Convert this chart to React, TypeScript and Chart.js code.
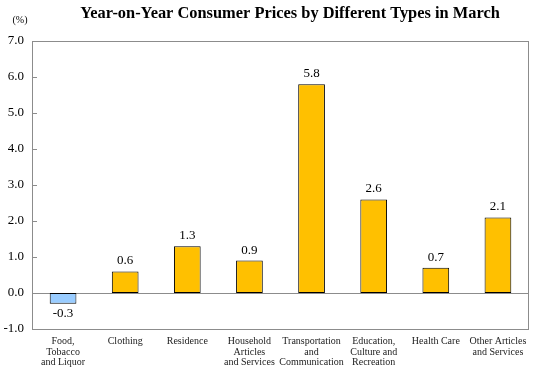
import React, { useEffect, useRef } from "react";
import { Chart, registerables } from "chart.js";

Chart.register(...registerables);

const categories: string[][] = [
  ["Food,", "Tobacco", "and Liquor"],
  ["Clothing"],
  ["Residence"],
  ["Household", "Articles", "and Services"],
  ["Transportation", "and", "Communication"],
  ["Education,", "Culture and", "Recreation"],
  ["Health Care"],
  ["Other Articles", "and Services"],
];
const values: number[] = [-0.3, 0.6, 1.3, 0.9, 5.8, 2.6, 0.7, 2.1];
const yTicks: number[] = [-1, 0, 1, 2, 3, 4, 5, 6, 7];
const titleText = "Year-on-Year Consumer Prices by Different Types in March";
const unitText = "(%)";

const FONT = "'Liberation Serif', 'Times New Roman', serif";

export default function App() {
  const ref = useRef<HTMLCanvasElement | null>(null);
  useEffect(() => {
    document.body.style.margin = "0";
    const canvas = ref.current!;
    const decor = {
      id: "decor",
      beforeDatasetsDraw(chart: any) {
        const { ctx, chartArea: a, scales } = chart;
        const y = scales.y;
        ctx.save();
        ctx.strokeStyle = "#8c8c8c";
        ctx.lineWidth = 1;
        const y0 = Math.round(y.getPixelForValue(0)) + 0.5;
        ctx.beginPath();
        ctx.moveTo(a.left, y0);
        ctx.lineTo(a.right, y0);
        ctx.stroke();
        for (const t of yTicks) {
          const py = Math.round(y.getPixelForValue(t)) + 0.5;
          ctx.beginPath();
          ctx.moveTo(a.left, py);
          ctx.lineTo(a.left + 5, py);
          ctx.stroke();
        }
        ctx.restore();
      },
      afterDraw(chart: any) {
        const { ctx, chartArea: a } = chart;
        ctx.save();
        ctx.strokeStyle = "#8c8c8c";
        ctx.lineWidth = 1;
        ctx.strokeRect(Math.round(a.left) + 0.5, Math.round(a.top) + 0.5, Math.round(a.right - a.left) - 1, Math.round(a.bottom - a.top));
        ctx.fillStyle = "#000";
        ctx.font = `bold 16.4px ${FONT}`;
        ctx.textAlign = "center";
        ctx.textBaseline = "middle";
        ctx.fillText(titleText, 290, 14);
        ctx.font = `10px ${FONT}`;
        ctx.fillText(unitText, 20, 20);
        const meta = chart.getDatasetMeta(0);
        ctx.font = `13px ${FONT}`;
        meta.data.forEach((bar: any, i: number) => {
          const v = values[i];
          const txt = v.toFixed(1);
          if (v >= 0) {
            ctx.textBaseline = "bottom";
            ctx.fillText(txt, bar.x, bar.y - 4);
          } else {
            ctx.textBaseline = "top";
            ctx.fillText(txt, bar.x, bar.y + 3);
          }
        });
        ctx.restore();
      },
    };
    const chart = new Chart(canvas, {
      type: "bar",
      data: {
        labels: categories,
        datasets: [
          {
            data: values,
            backgroundColor: values.map((v) => (v < 0 ? "#99CCFF" : "#FFC000")),
            borderColor: "#000",
            borderWidth: 1,
            borderSkipped: false,
            categoryPercentage: 1,
            barPercentage: 0.43,
          },
        ],
      },
      options: {
        responsive: false,
        animation: false,
        devicePixelRatio: 1,
        layout: { padding: { left: 0, right: 10, top: 41, bottom: 0 } },
        plugins: { legend: { display: false }, title: { display: false }, tooltip: { enabled: false } },
        scales: {
          x: {
            grid: { display: false, drawTicks: false },
            border: { display: false },
            ticks: {
              color: "#222",
              font: { family: FONT, size: 10, lineHeight: 1.07 },
              padding: 7,
              maxRotation: 0,
              autoSkip: false,
            },
            afterFit(s: any) {
              s.height = 42;
            },
          },
          y: {
            min: -1,
            max: 7,
            grid: { display: false, drawTicks: false },
            border: { display: false },
            afterBuildTicks(s: any) {
              s.ticks = yTicks.map((v) => ({ value: v }));
            },
            ticks: {
              color: "#000",
              font: { family: FONT, size: 13 },
              padding: 8,
              callback: (v: any) => Number(v).toFixed(1),
            },
            afterFit(s: any) {
              s.width = 32;
            },
          },
        },
      },
      plugins: [decor],
    });
    return () => chart.destroy();
  }, []);
  return (
    <div style={{ width: 539, height: 371 }}>
      <canvas ref={ref} width={539} height={371} style={{ display: "block" }} />
    </div>
  );
}
